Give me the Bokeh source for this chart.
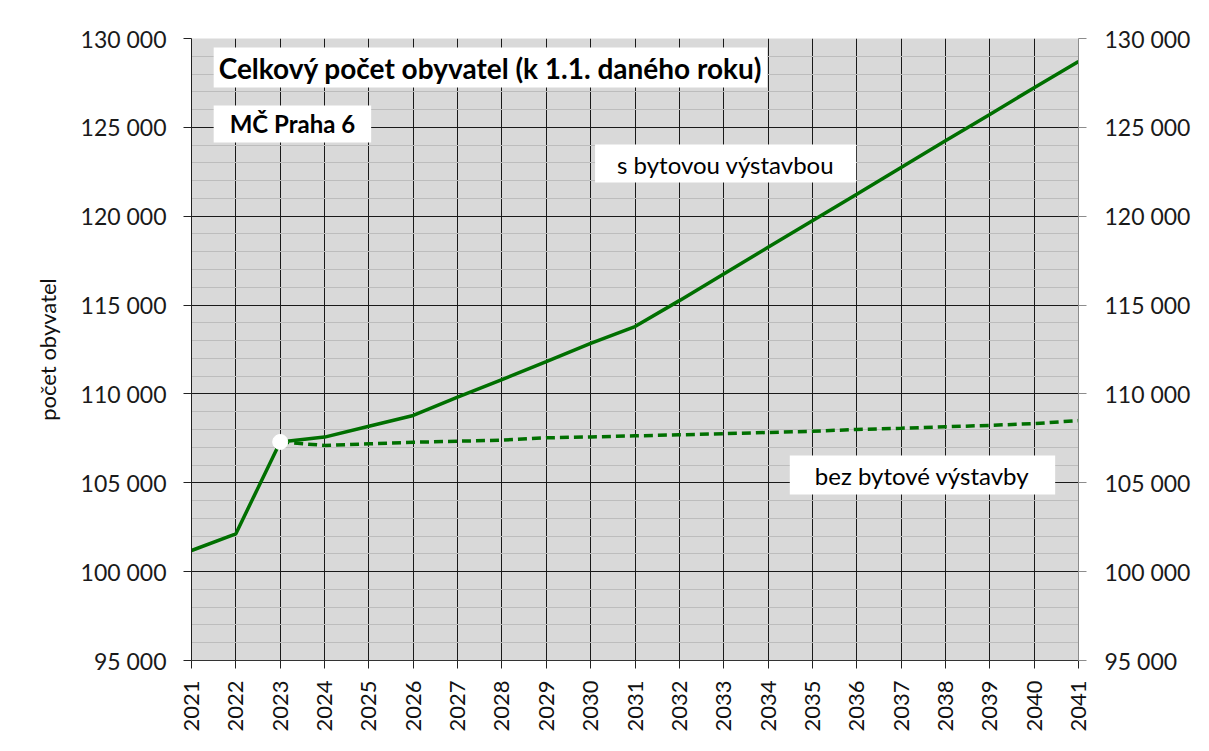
import math
from bokeh.plotting import figure
from bokeh.models import LinearAxis, FixedTicker, Label
from bokeh.embed import file_html
from bokeh.resources import INLINE

# ---- data ----
years = list(range(2021, 2042))
s_bytovou = [101190, 102130, 107300, 107570, 108180, 108790, 109820, 110810,
             111820, 112840, 113790, 115250, 116750, 118250, 119750, 121240,
             122740, 124240, 125730, 127230, 128710]
bez_years = list(range(2023, 2042))
bez_bytove = [107300, 107100, 107190, 107280, 107340, 107400, 107530, 107580,
              107640, 107700, 107760, 107830, 107900, 108000, 108070, 108150,
              108230, 108330, 108500]
y_major = list(range(95000, 130001, 5000))
y_minor = list(range(95000, 130001, 1000))
y_labels = {v: f"{v // 1000} 000" for v in y_major}

FONT = "Lato"
GREEN = "#006f00"

p = figure(width=1193, height=735, output_backend="svg", toolbar_location=None,
           x_range=(2021, 2041), y_range=(95000, 130000),
           min_border_left=191, min_border_right=114,
           min_border_top=38, min_border_bottom=75)
p.background_fill_color = "#d9d9d9"
p.border_fill_color = "white"
p.outline_line_color = None

# page frame (left and top edges of the surrounding box), drawn as an empty label box
frame_lab = Label(x=11, y=10, x_units="canvas", y_units="canvas", text=" ",
                  text_font_size="1px", text_align="left", text_baseline="top",
                  border_line_color="black", border_line_width=1.5,
                  background_fill_alpha=0,
                  padding=dict(left=0, right=1400, top=0, bottom=1000),
                  level="underlay")
p.add_layout(frame_lab)

# y axis (left)
yt = FixedTicker(ticks=y_major, minor_ticks=y_minor)
ya = p.yaxis[0]
ya.ticker = yt
ya.major_label_overrides = y_labels
ya.axis_label = "počet obyvatel"
ya.axis_label_text_font = FONT
ya.axis_label_text_font_size = "22px"
ya.axis_label_text_font_style = "normal"
ya.axis_label_text_color = "#111111"
ya.axis_label_standoff = 17
ya.major_label_text_font = FONT
ya.major_label_text_font_size = "23px"
ya.major_label_text_color = "#1a1a1a"
ya.major_label_standoff = 17
ya.major_tick_out = 8
ya.major_tick_in = 0
ya.minor_tick_out = 0
ya.minor_tick_in = 0
ya.axis_line_color = "#222222"
ya.major_tick_line_color = "#222222"

# y axis (right)
yr = LinearAxis(ticker=FixedTicker(ticks=y_major, minor_ticks=y_minor),
                major_label_overrides=y_labels)
yr.major_label_text_font = FONT
yr.major_label_text_font_size = "23px"
yr.major_label_text_color = "#1a1a1a"
yr.major_label_standoff = 18
yr.major_tick_out = 8
yr.major_tick_in = 0
yr.minor_tick_out = 0
yr.minor_tick_in = 0
yr.axis_line_color = "#8c8c8c"
yr.major_tick_line_color = "#8c8c8c"
p.add_layout(yr, "right")

# x axis
xa = p.xaxis[0]
xa.ticker = FixedTicker(ticks=years)
xa.major_label_orientation = math.pi / 2
xa.major_label_text_font = FONT
xa.major_label_text_font_size = "22px"
xa.major_label_text_color = "#111111"
xa.major_label_standoff = 12
xa.major_tick_out = 8
xa.major_tick_in = 0
xa.minor_tick_out = 0
xa.axis_line_color = "#333333"
xa.major_tick_line_color = "#222222"

# grids
p.ygrid.ticker = yt
p.ygrid.grid_line_color = "#1a1a1a"
p.ygrid.grid_line_width = 1
p.ygrid.minor_grid_line_color = "#bdbdbd"
p.ygrid.minor_grid_line_width = 1
p.xgrid.ticker = FixedTicker(ticks=years)
p.xgrid.grid_line_color = "#1a1a1a"
p.xgrid.grid_line_width = 1

# series
p.line(bez_years, bez_bytove, line_color=GREEN, line_width=3.5, line_dash="9 5")
p.line(years, s_bytovou, line_color=GREEN, line_width=3.5)
p.scatter([years[2]], [s_bytovou[2]], size=15, fill_color="white",
          line_color="white", marker="circle")

# annotations
def box_label(x, y, text, size, pad, bold=False):
    lab = Label(x=x, y=y, text=text, text_font=FONT, text_font_size=size,
                text_font_style="bold" if bold else "normal",
                text_color="black", text_align="left", text_baseline="top",
                background_fill_color="white", background_fill_alpha=1.0,
                padding=pad)
    p.add_layout(lab)

box_label(2021.5, 129490, "Celkový počet obyvatel (k 1.1. daného roku)", "28px",
          dict(left=5, right=5, top=3, bottom=3), True)
box_label(2021.5, 126230, "MČ Praha 6", "24px",
          dict(left=16, right=16, top=4, bottom=4), True)
box_label(2030.1, 124030, "s bytovou výstavbou", "24px",
          dict(left=22, right=22, top=5, bottom=4))
box_label(2034.49, 106530, "bez bytové výstavby", "24px",
          dict(left=25, right=26, top=5, bottom=5))

open("out.html", "w").write(file_html(p, INLINE))
